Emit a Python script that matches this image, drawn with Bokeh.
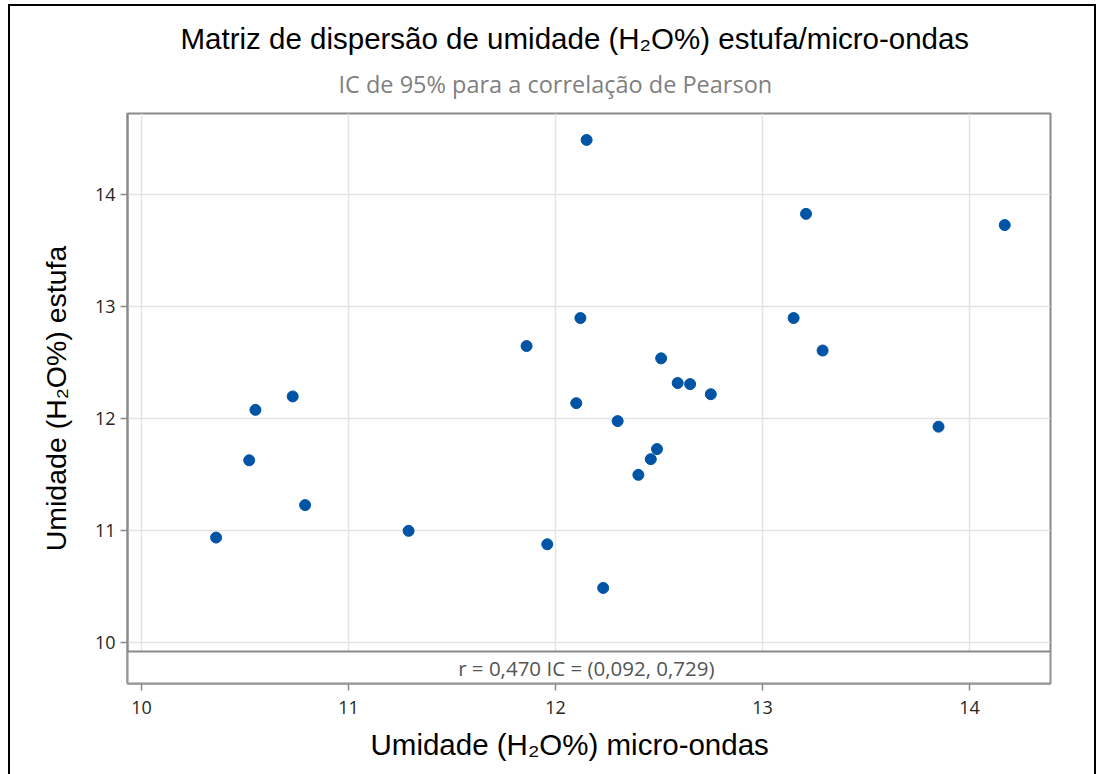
from bokeh.plotting import figure
from bokeh.models import Title, BoxAnnotation, Label, Range1d, FixedTicker
from bokeh.embed import file_html
from bokeh.resources import INLINE

# ---- data ----
micro_ondas = [10.36, 10.52, 10.55, 10.73, 10.79, 11.29, 11.86, 11.96, 12.10, 12.12,
               12.15, 12.23, 12.30, 12.40, 12.46, 12.49, 12.51, 12.59, 12.65, 12.75,
               13.15, 13.21, 13.29, 13.85, 14.17]
estufa = [10.94, 11.63, 12.08, 12.20, 11.23, 11.00, 12.65, 10.88, 12.14, 12.90,
          14.49, 10.49, 11.98, 11.50, 11.64, 11.73, 12.54, 12.32, 12.31, 12.22,
          12.90, 13.83, 12.61, 11.93, 13.73]
x_ticks = [10, 11, 12, 13, 14]
y_ticks = [10, 11, 12, 13, 14]
title_text = "Matriz de dispersão de umidade (H₂O%) estufa/micro-ondas"
subtitle_text = "IC  de 95% para a correlação de Pearson"
x_label = "Umidade (H₂O%) micro-ondas"
y_label = "Umidade (H₂O%) estufa"
r_text = "r = 0,470  IC = (0,092, 0,729)"

X0, X1 = 9.932, 14.391
Y0, Y1 = 9.637, 14.726
BAND_TOP = 9.922

FRAME = "#8a8a8a"
TICK_FONT = "Open Sans"
LABEL_FONT = "Liberation Sans"

p = figure(
    title=None,
    x_range=Range1d(X0, X1), y_range=Range1d(Y0, Y1),
    frame_width=923, frame_height=570,
    min_border_left=117, min_border_right=44,
    min_border_top=107, min_border_bottom=91,
    output_backend="svg", toolbar_location=None,
    background_fill_color="white", border_fill_color="white",
)
p.styles = {
    "margin-left": "8px", "margin-top": "4px",
    "border-left": "2px solid black", "border-top": "2px solid black",
    "border-right": "2px solid black",
}

p.outline_line_color = FRAME
p.outline_line_width = 2
p.outline_line_alpha = 1

for ax, ticks in ((p.xaxis, x_ticks), (p.yaxis, y_ticks)):
    ax.ticker = FixedTicker(ticks=ticks)
    ax.axis_line_color = FRAME
    ax.axis_line_width = 2
    ax.major_tick_line_color = FRAME
    ax.major_tick_line_width = 1.5
    ax.major_tick_out = 7
    ax.major_tick_in = 0
    ax.minor_tick_line_color = None
    ax.major_label_text_font = TICK_FONT
    ax.major_label_text_font_size = "18px"
    ax.major_label_text_color = "#262626"
p.xaxis.major_label_standoff = 10
p.yaxis.major_label_standoff = 5

p.yaxis.axis_label = y_label
p.yaxis.axis_label_text_font = LABEL_FONT
p.yaxis.axis_label_text_font_size = "28.5px"
p.yaxis.axis_label_text_font_style = "normal"
p.yaxis.axis_label_text_color = "black"
p.yaxis.axis_label_standoff = 20

p.xgrid.grid_line_color = "#e4e4e4"
p.ygrid.grid_line_color = "#e4e4e4"
p.xgrid.grid_line_width = 1.5
p.ygrid.grid_line_width = 1.5

p.scatter(micro_ondas, estufa, size=11, fill_color="#0054A6", line_color="#0054A6")

band = BoxAnnotation(top=BAND_TOP, fill_color="white", fill_alpha=1.0,
                     line_color=FRAME, line_width=2, line_alpha=1.0)
p.add_layout(band)
p.add_layout(Label(x=(X0 + X1) / 2, y=(Y0 + BAND_TOP) / 2, text=r_text,
                   text_align="center", text_baseline="middle",
                   text_font=TICK_FONT, text_font_size="20.5px", text_color="#555555"))

# titles: subtitle first (closest to frame), then main title
p.add_layout(Title(text=subtitle_text, align="left", offset=211,
                   text_font=TICK_FONT, text_font_size="23.5px",
                   text_font_style="normal", text_color="#7f7f7f", standoff=28), "above")
p.add_layout(Title(text=title_text, align="left", offset=53,
                   text_font=LABEL_FONT, text_font_size="29.5px",
                   text_font_style="normal", text_color="black", standoff=-6), "above")

# x axis label as a title below, positioned like the reference
p.add_layout(Title(text=x_label, align="left", offset=243,
                   text_font=LABEL_FONT, text_font_size="29.5px",
                   text_font_style="normal", text_color="black", standoff=19), "below")

open("out.html", "w").write(file_html(p, INLINE))
